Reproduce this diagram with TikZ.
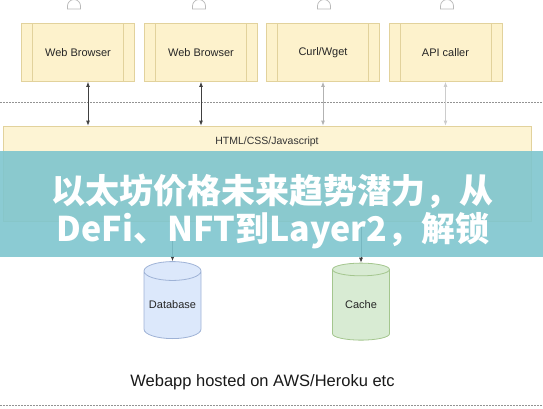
\documentclass[tikz,border=0pt]{standalone}
\usepackage{fontspec}
\setmainfont{Liberation Sans}
\newfontfamily\cjk{Noto Sans CJK SC}
\usetikzlibrary{arrows.meta, shapes.geometric, positioning, math}
\definecolor{procfill}{RGB}{253,242,204}
\definecolor{procline}{RGB}{226,210,156}
\definecolor{dbfill}{RGB}{220,232,251}
\definecolor{dbline}{RGB}{158,178,214}
\definecolor{cachefill}{RGB}{216,235,211}
\definecolor{cacheline}{RGB}{164,198,142}
\definecolor{bannerteal}{RGB}{126,197,206}

\begin{document}
\begin{tikzpicture}[x=1pt, y=-1pt,
  procbox/.style={draw=procline, fill=procfill, line width=0.8pt,
    minimum width=113pt, minimum height=58pt, inner sep=0pt,
    font=\fontsize{11}{13}\selectfont, text=black!85,
    path picture={\draw[procline, line width=0.8pt]
      ([xshift=11pt]path picture bounding box.north west) -- ([xshift=11pt]path picture bounding box.south west)
      ([xshift=-11pt]path picture bounding box.north east) -- ([xshift=-11pt]path picture bounding box.south east);}},
  webbox/.style={draw=procline, fill=procfill!85!white, line width=0.8pt,
    minimum width=528pt, minimum height=95pt, inner sep=0pt},
  store/.style={cylinder, shape border rotate=90, aspect=0.4, line width=0.8pt,
    minimum width=57pt, minimum height=77pt, inner sep=0pt,
    font=\fontsize{11}{13}\selectfont, text=black!85},
  biarrow/.style={{Latex[length=5pt,width=4pt]}-{Latex[length=5pt,width=4pt]}, line width=0.8pt},
  downarrow/.style={-{Latex[length=5pt,width=4pt]}, line width=0.8pt, draw=black!75},
  sepline/.style={draw=gray!85, line width=0.9pt, dash pattern=on 1.5pt off 1.5pt},
  bannertext/.style={text=white, font=\cjk\bfseries\fontsize{34}{40}\selectfont, inner sep=0pt}
]
\useasboundingbox (0,0) rectangle (543,408);

%users (cut off at the top)
\foreach \cx in {74,199,324,447}{
  \draw[gray!55, fill=white, line width=0.7pt] (\cx,-2) circle (3.5);
  \draw[gray!55, fill=white, line width=0.7pt] (\cx-6.5,9) -- (\cx-6.5,6) arc[start angle=180, end angle=360, radius=6.5] -- (\cx+6.5,9) -- cycle;
}

%clients
\node[procbox] (wb1) at (78,52.5) {Web Browser};
\node[procbox] (wb2) at (201,52.5) {Web Browser};
\node[procbox] (curl) at (323,52.5) {Curl/Wget};
\node[procbox] (api) at (445.5,52.5) {API caller};

\draw[sepline] (0,102) -- (543,102);

%webapp
\node[webbox] (web) at (267,173.5) {};
\node[font=\fontsize{10.5}{12}\selectfont, text=black!80] (webtxt) at ([yshift=-16pt]web.north) {HTML/CSS/Javascript};

\draw[biarrow, draw=black!75] ([xshift=10pt]wb1.south) -- ([xshift=10pt]wb1.south |- web.north);
\draw[biarrow, draw=black!75] (wb2.south) -- (wb2.south |- web.north);
\draw[biarrow, draw=black!30] (curl.south) -- (curl.south |- web.north);
\draw[biarrow, draw=black!20] (api.south) -- (api.south |- web.north);

%storage
\node[store, draw=dbline, fill=dbfill] (db) at (172.5,305) {Database};
\node[store, draw=cacheline, fill=cachefill] (cache) at (361,305) {Cache};
\draw[downarrow] (db.top |- web.south) -- (db.top);
\draw[downarrow] (cache.top |- web.south) -- (cache.top);

\node[font=\fontsize{16.5}{19}\selectfont, text=black!90] (host) at (262.5,382) {Webapp hosted on AWS/Heroku etc};
\draw[sepline] (0,405) -- (543,405);

%banner
\fill[bannerteal, opacity=0.9] (0,151) rectangle (543,257);
\node[bannertext] (title1) at (272,191) {以太坊价格未来趋势潜力，从};
\node[bannertext] (title2) at (273,231) {DeFi、NFT到Layer2，解锁};
\end{tikzpicture}
\end{document}
